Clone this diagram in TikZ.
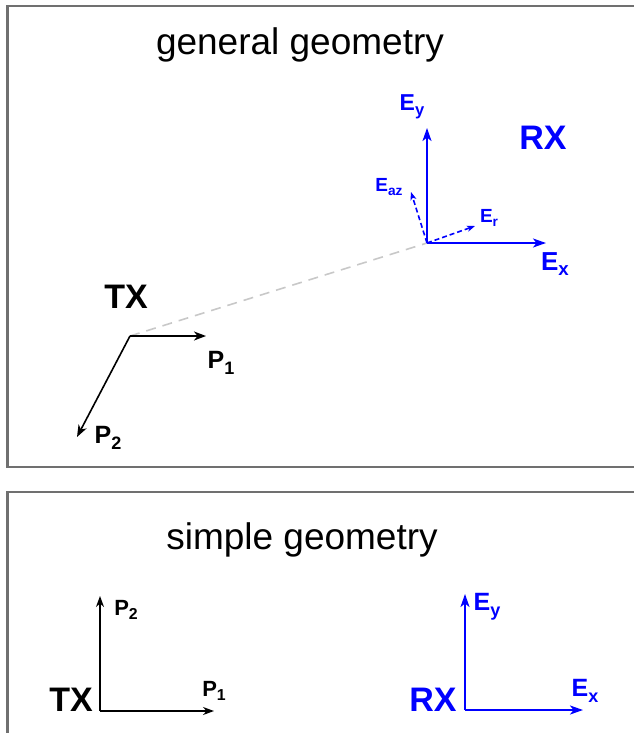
\documentclass[tikz,border=0pt]{standalone}
\usepackage{fontspec}
\usepackage{graphicx}
\setmainfont{Liberation Sans}
\usetikzlibrary{arrows.meta}
\definecolor{framegray}{HTML}{707070}
\definecolor{dashgray}{HTML}{C8C8C8}
\definecolor{eblue}{HTML}{0000FF}
\newcommand\fsz[1]{\fontsize{#1}{#1}\selectfont}
\newcommand\sbs[1]{\raisebox{-0.22em}{\scalebox{0.72}{#1}}}
\tikzset{
  frame/.style={draw=framegray, line width=2.2pt},
  title/.style={inner sep=0pt, font=\fsz{37}},
  biglab/.style={inner sep=0pt, font=\bfseries\fsz{34}},
  lab/.style={inner sep=0pt, font=\bfseries\fsz{24}},
  smalllab/.style={inner sep=0pt, font=\bfseries\fsz{19}},
  vec/.style={line width=1.6pt, -{Stealth[length=12pt,width=9pt,inset=3.5pt]}},
  thinvec/.style={line width=1.3pt, -{Stealth[length=11pt,width=8pt,inset=3.5pt]}},
  bluevec/.style={draw=eblue, line width=2pt, -{Stealth[length=13pt,width=9pt,inset=3.5pt]}},
  dashvec/.style={draw=eblue, line width=1.6pt, dash pattern=on 5pt off 3pt, -{Stealth[length=8pt,width=6pt,inset=2pt]}},
  graydash/.style={draw=dashgray, line width=1.6pt, dash pattern=on 10pt off 7pt},
}
\begin{document}
\begin{tikzpicture}[x=1pt,y=-1pt]
\useasboundingbox (0,0) rectangle (633,733);
% frames
\draw[frame] (640,6) -- (7.5,6) -- (7.5,467) -- (640,467);
\draw[frame] (640,492) -- (7.5,492) -- (7.5,740);

% ---- general geometry ----
\node[title] (t1) at (300,45) {general geometry};
\coordinate (txo) at (130,336);
\coordinate (p1tip) at (206,336);
\coordinate (p2tip) at (77,437);
\coordinate (rxo) at (427,243);
\coordinate (eytip) at (427,128);
\coordinate (extip) at (546,243);
\coordinate (ertip) at (475,226);
\coordinate (eaztip) at (411,192);

\draw[graydash] (txo) -- (rxo);
\draw[vec] (txo) -- (p1tip);
\draw[vec] (txo) -- (p2tip);
\node[biglab] (tx1) at (126,297) {TX};
\node[lab, font=\bfseries\fsz{25}] (p1a) at (221,363) {P\sbs{1}};
\node[lab, font=\bfseries\fsz{25}] (p2a) at (108,438) {P\sbs{2}};

\draw[bluevec] (rxo) -- (eytip);
\draw[bluevec] (rxo) -- (extip);
\draw[dashvec] (rxo) -- (ertip);
\draw[dashvec] (rxo) -- (eaztip);
\node[biglab, text=eblue] (rx1) at (543,138) {RX};
\node[lab, text=eblue, font=\bfseries\fsz{23}] (ey1) at (412,107) {E\sbs{y}};
\node[lab, text=eblue, font=\bfseries\fsz{26}] (ex1) at (555,264) {E\sbs{x}};
\node[smalllab, text=eblue] (eaz) at (389,187) {E\sbs{az}};
\node[smalllab, text=eblue] (er) at (489,218) {E\sbs{r}};

% ---- simple geometry ----
\node[title] (t2) at (302,540) {simple geometry};
\coordinate (txs) at (100,711);
\coordinate (sp1) at (214,711);
\coordinate (sp2) at (100,596);
\draw[thinvec] (txs) -- (sp1);
\draw[thinvec] (txs) -- (sp2);
\node[biglab] (tx2) at (71,700) {TX};
\node[lab, font=\bfseries\fsz{22}] (p1b) at (214,691) {P\sbs{1}};
\node[lab, font=\bfseries\fsz{22}] (p2b) at (126,610) {P\sbs{2}};

\coordinate (rxs) at (465,710);
\coordinate (sey) at (465,594);
\coordinate (sex) at (583,710);
\draw[bluevec] (rxs) -- (sey);
\draw[bluevec] (rxs) -- (sex);
\node[biglab, text=eblue] (rx2) at (433,700) {RX};
\node[lab, text=eblue, font=\bfseries\fsz{25}] (ey2) at (487,607) {E\sbs{y}};
\node[lab, text=eblue, font=\bfseries\fsz{25}] (ex2) at (585,691) {E\sbs{x}};
\end{tikzpicture}
\end{document}
